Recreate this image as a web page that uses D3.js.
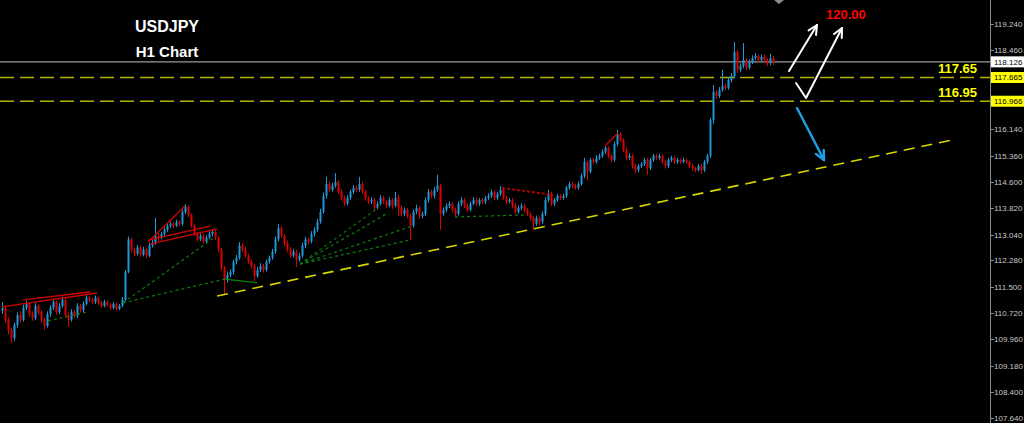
<!DOCTYPE html>
<html>
<head>
<meta charset="utf-8">
<script src="https://cdn.jsdelivr.net/npm/d3@7"></script>
<style>
  html, body { margin: 0; padding: 0; background: #000; overflow: hidden; }
  svg { display: block; }
</style>
</head>
<body>
<div class="chart"></div>
<script>

// USDJPY H1 bars (open = previous close)
var firstOpen = 110.80;
var closes = [
  110.88, 110.53, 110.23, 109.99, 110.38, 110.67, 110.53, 110.88, 111.00, 110.70,
  110.58, 110.94, 110.76, 110.53, 110.35, 110.70, 110.88, 111.06, 110.76, 110.94,
  111.12, 110.67, 110.53, 110.76, 110.64, 110.94, 110.82, 111.00, 111.18, 111.12,
  111.06, 111.18, 111.03, 110.94, 111.06, 110.97, 110.88, 111.00, 110.85, 110.94,
  111.12, 111.94, 112.90, 112.60, 112.48, 112.66, 112.45, 112.60, 112.42, 112.72,
  112.78, 113.00, 112.95, 113.06, 113.18, 113.30, 113.36, 113.30, 113.42, 113.36,
  113.71, 113.86, 113.62, 113.30, 113.06, 112.90, 113.00, 112.84, 112.95, 113.06,
  113.12, 112.95, 112.60, 112.06, 111.71, 111.85, 111.94, 112.24, 112.36, 112.72,
  112.60, 112.42, 112.24, 112.12, 111.82, 112.00, 112.12, 112.00, 112.24, 112.36,
  112.54, 112.90, 113.24, 113.00, 112.78, 112.60, 112.42, 112.54, 112.30, 112.42,
  112.72, 112.90, 112.84, 113.06, 113.18, 113.42, 113.71, 114.18, 114.53, 114.36,
  114.48, 114.59, 114.30, 114.12, 113.95, 114.12, 114.30, 114.42, 114.36, 114.53,
  114.30, 114.12, 114.01, 114.06, 113.83, 113.95, 114.12, 114.01, 113.89, 114.06,
  113.89, 114.12, 113.83, 113.65, 113.77, 113.59, 113.30, 113.71, 113.83, 113.59,
  113.65, 114.06, 114.30, 114.18, 114.36, 114.48, 113.65, 113.77, 113.89, 113.95,
  113.77, 113.65, 113.95, 114.06, 113.89, 113.77, 113.95, 114.06, 113.95, 114.06,
  114.01, 114.12, 114.18, 114.30, 114.12, 114.24, 114.36, 114.12, 114.01, 114.06,
  113.89, 113.71, 113.83, 113.89, 113.77, 113.65, 113.53, 113.36, 113.53, 113.42,
  113.65, 114.06, 114.24, 113.95, 114.06, 114.18, 114.12, 114.18, 114.42, 114.53,
  114.48, 114.42, 114.53, 114.77, 115.18, 114.89, 115.24, 115.18, 115.30, 115.36,
  115.48, 115.60, 115.36, 115.24, 115.71, 116.00, 115.83, 115.53, 115.30, 115.36,
  115.06, 114.94, 115.06, 115.12, 115.24, 115.00, 115.24, 115.36, 115.30, 115.36,
  115.18, 115.06, 115.24, 115.30, 115.18, 115.24, 115.18, 115.24, 115.18, 115.06,
  115.00, 114.94, 115.06, 114.94, 115.18, 115.36, 116.41, 117.24, 117.12, 117.30,
  117.42, 117.36, 117.59, 117.71, 118.42, 117.89, 118.01, 118.18, 117.95, 118.12,
  118.24, 118.30, 118.18, 118.27, 118.18, 118.09, 118.24, 118.126
];
var highs = [
  111.05, 110.95, 110.60, 110.30, 110.45, 110.75, 110.78, 110.98, 111.10, 111.05,
  110.78, 111.02, 111.00, 110.82, 110.60, 110.78, 110.96, 111.15, 111.10, 111.02,
  111.22, 111.18, 110.75, 110.84, 110.82, 111.02, 111.00, 111.08, 111.26, 111.24,
  111.18, 111.25, 111.22, 111.08, 111.12, 111.10, 111.02, 111.06, 111.04, 111.00,
  111.20, 112.00, 112.98, 112.95, 112.66, 112.74, 112.72, 112.68, 112.66, 112.80,
  112.88, 113.53, 113.08, 113.12, 113.25, 113.38, 113.42, 113.40, 113.48, 113.46,
  113.78, 113.94, 113.90, 113.66, 113.36, 113.12, 113.08, 113.06, 113.02, 113.14,
  113.20, 113.18, 113.00, 112.66, 112.12, 111.95, 112.02, 112.30, 112.44, 112.82,
  112.80, 112.68, 112.48, 112.30, 112.18, 112.08, 112.20, 112.18, 112.30, 112.42,
  112.62, 112.98, 113.35, 113.30, 113.06, 112.86, 112.68, 112.62, 112.60, 112.50,
  112.80, 112.98, 112.96, 113.14, 113.26, 113.50, 113.80, 114.28, 114.74, 114.60,
  114.56, 114.85, 114.64, 114.38, 114.18, 114.20, 114.36, 114.50, 114.48, 114.74,
  114.60, 114.36, 114.18, 114.14, 114.12, 114.02, 114.20, 114.18, 114.06, 114.14,
  114.12, 114.30, 114.20, 113.90, 113.84, 113.82, 113.66, 113.78, 113.92, 113.88,
  113.72, 114.14, 114.38, 114.36, 114.44, 114.80, 114.54, 113.84, 113.96, 114.02,
  114.00, 113.84, 114.02, 114.14, 114.12, 113.96, 114.02, 114.14, 114.12, 114.12,
  114.12, 114.18, 114.26, 114.36, 114.34, 114.30, 114.47, 114.42, 114.18, 114.12,
  114.12, 113.96, 113.90, 113.96, 113.94, 113.82, 113.70, 113.58, 113.60, 113.58,
  113.72, 114.14, 114.36, 114.30, 114.12, 114.24, 114.24, 114.24, 114.48, 114.60,
  114.60, 114.54, 114.60, 114.84, 115.30, 115.22, 115.30, 115.30, 115.38, 115.42,
  115.54, 115.66, 115.64, 115.42, 115.78, 116.12, 116.04, 115.88, 115.60, 115.44,
  115.42, 115.12, 115.12, 115.18, 115.30, 115.30, 115.30, 115.42, 115.42, 115.42,
  115.40, 115.24, 115.30, 115.36, 115.34, 115.30, 115.28, 115.30, 115.28, 115.22,
  115.12, 115.04, 115.12, 115.12, 115.24, 115.42, 116.48, 117.44, 117.30, 117.38,
  117.89, 117.48, 117.66, 117.80, 118.71, 118.48, 118.08, 118.68, 118.24, 118.20,
  118.32, 118.38, 118.34, 118.34, 118.34, 118.24, 118.36, 118.30
];
var lows = [
  110.70, 110.45, 110.10, 109.85, 109.92, 110.30, 110.45, 110.48, 110.82, 110.62,
  110.50, 110.52, 110.68, 110.46, 110.23, 110.30, 110.62, 110.82, 110.68, 110.70,
  110.88, 110.60, 110.32, 110.48, 110.58, 110.58, 110.74, 110.76, 110.95, 111.05,
  111.00, 111.00, 110.98, 110.88, 110.90, 110.92, 110.82, 110.84, 110.80, 110.82,
  110.90, 111.08, 111.90, 112.52, 112.40, 112.42, 112.38, 112.40, 112.35, 112.38,
  112.66, 112.74, 112.86, 112.90, 113.00, 113.12, 113.24, 113.24, 113.26, 113.30,
  113.30, 113.64, 113.55, 113.24, 113.00, 112.84, 112.85, 112.78, 112.78, 112.90,
  112.98, 112.88, 112.52, 111.98, 111.29, 111.62, 111.78, 111.86, 112.16, 112.30,
  112.52, 112.36, 112.18, 112.04, 111.67, 111.76, 111.94, 111.92, 111.95, 112.18,
  112.30, 112.48, 112.84, 112.94, 112.70, 112.52, 112.36, 112.36, 112.09, 112.24,
  112.36, 112.64, 112.76, 112.78, 112.98, 113.12, 113.36, 113.66, 114.10, 114.28,
  114.30, 114.42, 114.24, 114.04, 113.88, 113.90, 114.06, 114.24, 114.30, 114.30,
  114.24, 114.04, 113.94, 113.94, 113.76, 113.78, 113.90, 113.94, 113.82, 113.84,
  113.80, 113.84, 113.58, 113.58, 113.58, 113.52, 112.88, 113.24, 113.64, 113.50,
  113.52, 113.58, 113.98, 114.10, 114.10, 114.30, 113.18, 113.58, 113.70, 113.82,
  113.70, 113.58, 113.60, 113.88, 113.82, 113.70, 113.72, 113.90, 113.88, 113.88,
  113.94, 113.94, 114.06, 114.12, 114.06, 114.06, 114.18, 114.06, 113.94, 113.96,
  113.82, 113.64, 113.66, 113.76, 113.70, 113.58, 113.46, 113.18, 113.30, 113.32,
  113.36, 113.58, 114.00, 113.88, 113.88, 114.00, 114.06, 114.06, 114.12, 114.36,
  114.40, 114.36, 114.36, 114.48, 114.70, 114.65, 114.84, 115.10, 115.12, 115.24,
  115.30, 115.42, 115.28, 115.16, 115.18, 115.64, 115.76, 115.46, 115.22, 115.24,
  114.98, 114.85, 114.88, 115.00, 115.06, 114.80, 114.94, 115.18, 115.24, 115.24,
  115.12, 114.98, 115.00, 115.18, 115.12, 115.12, 115.12, 115.14, 115.12, 115.00,
  114.92, 114.88, 114.90, 114.82, 114.88, 115.12, 115.30, 116.30, 117.02, 117.06,
  117.24, 117.28, 117.30, 117.52, 117.64, 117.80, 117.82, 117.94, 117.88, 117.90,
  118.06, 118.18, 118.10, 118.12, 118.10, 118.00, 118.02, 118.04
];

// right price scale labels
var tickLabels = [119.240, 118.460, 116.140, 115.360, 114.600, 113.820, 113.040,
  112.280, 111.500, 110.720, 109.960, 109.180, 108.400, 107.640];

var bidPrice = 118.126;
var levels = [117.665, 116.966];
var levelTexts = ["117.65", "116.95"];
var targetText = "120.00";

// drawn objects, [bar, price] anchors
var trendLine = [[71.7, 111.23], [317, 115.83]];
var redLines = [
  [[0, 110.91], [31.7, 111.32]],
  [[7, 111.12], [29.3, 111.35]],
  [[48.7, 112.82], [61, 113.88]],
  [[48.7, 112.88], [69.3, 113.29]],
  [[49.3, 112.76], [71.7, 113.21]],
  [[201, 115.65], [205.3, 116.03]]
];
var redDashed = [[[166.7, 114.41], [183.7, 114.21]]];
var greenDashed = [
  [[15.3, 110.50], [28.3, 110.76]],
  [[40.3, 111.03], [71, 112.97]],
  [[40.3, 111.03], [74.3, 111.73]],
  [[99.3, 112.17], [125.3, 113.82]],
  [[99.3, 112.17], [128.7, 113.68]],
  [[99.3, 112.17], [136, 112.88]],
  [[99.3, 112.17], [136.7, 113.29]],
  [[151, 113.56], [175, 113.62]]
];
var greenSolid = [[[74.3, 111.73], [85, 111.62]]];

var candles = closes.map(function(c, i) {
  var o = i === 0 ? firstOpen : closes[i - 1];
  return {i: i, open: o, close: c,
    high: Math.max(highs[i], o, c), low: Math.min(lows[i], o, c)};
});

var svgWidth = 1024, svgHeight = 423;
var axisX = 990;
var font = "Liberation Sans, Arial, sans-serif";

var svg = d3.select(".chart")
  .append("svg")
    .attr("width", svgWidth)
    .attr("height", svgHeight)
    .style("background", "#000");

var x = d3.scaleLinear().domain([0, 317]).range([2, 953]);
var y = d3.scaleLinear().domain([107.64, 119.24]).range([418, 24]);

var bull = "#1e98d6", bear = "#dd0000";

// price axis
svg.append("line")
  .attr("x1", axisX + 0.5).attr("x2", axisX + 0.5)
  .attr("y1", 0).attr("y2", svgHeight)
  .attr("stroke", "#8a8a8a");

var ticks = svg.append("g");
ticks.selectAll("line")
  .data(tickLabels)
  .enter()
  .append("line")
    .attr("x1", axisX).attr("x2", axisX + 4)
    .attr("y1", function(d) { return Math.round(y(d)) + 0.5; })
    .attr("y2", function(d) { return Math.round(y(d)) + 0.5; })
    .attr("stroke", "#8a8a8a");
ticks.selectAll("text")
  .data(tickLabels)
  .enter()
  .append("text")
    .attr("x", axisX + 4)
    .attr("y", function(d) { return Math.min(y(d) + 3, 421); })
    .attr("fill", "#c8c8c8")
    .attr("font-family", font)
    .attr("font-size", 8)
    .text(function(d) { return d.toFixed(3); });

// bid line + level lines
svg.append("line")
  .attr("x1", 0).attr("x2", axisX)
  .attr("y1", y(bidPrice)).attr("y2", y(bidPrice))
  .attr("stroke", "#9a9a9a").attr("stroke-width", 1.2);

svg.selectAll(".level")
  .data(levels)
  .enter()
  .append("line")
    .classed("level", true)
    .attr("x1", 0).attr("x2", axisX)
    .attr("y1", function(d) { return y(d); })
    .attr("y2", function(d) { return y(d); })
    .attr("stroke", "#b4b400")
    .attr("stroke-width", 1.5)
    .attr("stroke-dasharray", "14,6");

svg.selectAll(".levelText")
  .data(levels)
  .enter()
  .append("text")
    .attr("x", 938)
    .attr("y", function(d) { return y(d) - 4; })
    .attr("fill", "#ffff00")
    .attr("font-family", font)
    .attr("font-weight", "bold")
    .attr("font-size", 13)
    .text(function(d, i) { return levelTexts[i]; });

// highlighted price labels
var boxes = [{v: bidPrice, bg: "#ffffff"}, {v: levels[0], bg: "#ffff00"}, {v: levels[1], bg: "#ffff00"}];
var boxG = svg.selectAll(".pbox")
  .data(boxes)
  .enter()
  .append("g")
    .classed("pbox", true);
boxG.append("rect")
  .attr("x", axisX + 1).attr("width", svgWidth - axisX - 1)
  .attr("y", function(d) { return y(d.v) - 5.5; })
  .attr("height", 11)
  .attr("fill", function(d) { return d.bg; });
boxG.append("text")
  .attr("x", axisX + 4)
  .attr("y", function(d) { return y(d.v) + 3; })
  .attr("fill", "#000")
  .attr("font-family", font)
  .attr("font-size", 8)
  .text(function(d) { return d.v.toFixed(3); });

// candles
var bars = svg.append("g").selectAll(".bar")
  .data(candles)
  .enter()
  .append("g")
    .classed("bar", true);
bars.append("line")
  .attr("x1", function(d) { return Math.round(x(d.i)) + 0.5; })
  .attr("x2", function(d) { return Math.round(x(d.i)) + 0.5; })
  .attr("y1", function(d) { return y(d.high); })
  .attr("y2", function(d) { return y(d.low); })
  .attr("stroke", function(d) { return d.close >= d.open ? bull : bear; });
bars.append("rect")
  .attr("x", function(d) { return Math.round(x(d.i)) - 0.5; })
  .attr("width", 2)
  .attr("y", function(d) { return y(Math.max(d.open, d.close)); })
  .attr("height", function(d) { return Math.max(1, Math.abs(y(d.open) - y(d.close))); })
  .attr("fill", function(d) { return d.close >= d.open ? bull : bear; });

// drawn objects
var line = d3.line()
  .x(function(p) { return x(p[0]); })
  .y(function(p) { return y(p[1]); });

function drawSet(set, color, width, dash) {
  svg.append("g").selectAll("path")
    .data(set)
    .enter()
    .append("path")
      .attr("d", line)
      .attr("fill", "none")
      .attr("stroke", color)
      .attr("stroke-width", width)
      .attr("stroke-dasharray", dash);
}
drawSet(greenDashed, "#0b800b", 1.2, "3,3");
drawSet(greenSolid, "#0b800b", 1.2, null);
drawSet(redLines, "#d00000", 1.3, null);
drawSet(redDashed, "#c00000", 1.8, "3,2");
drawSet([trendLine], "#d6d600", 1.6, "11,7");

// hand drawn arrows
function arrow(pts, color, w) {
  svg.append("path")
    .attr("d", d3.line()(pts))
    .attr("fill", "none")
    .attr("stroke", color)
    .attr("stroke-width", w)
    .attr("stroke-linecap", "round")
    .attr("stroke-linejoin", "round");
  var a = pts[pts.length - 2], b = pts[pts.length - 1];
  var ang = Math.atan2(b[1] - a[1], b[0] - a[0]);
  var len = 10, spread = 0.45;
  var h1 = [b[0] - len * Math.cos(ang - spread), b[1] - len * Math.sin(ang - spread)];
  var h2 = [b[0] - len * Math.cos(ang + spread), b[1] - len * Math.sin(ang + spread)];
  svg.append("path")
    .attr("d", d3.line()([h1, b, h2]))
    .attr("fill", "none")
    .attr("stroke", color)
    .attr("stroke-width", w)
    .attr("stroke-linecap", "round")
    .attr("stroke-linejoin", "round");
}
arrow([[789, 71], [817, 25]], "#ffffff", 2);
arrow([[796, 83], [806, 98], [842, 28]], "#ffffff", 2);
arrow([[797, 108], [824, 160]], "#1e9ee0", 2.5);

// top marker
svg.append("path")
  .attr("d", "M774,0 L784,0 L779,4 Z")
  .attr("fill", "#8a8a8a");

// texts
svg.append("text")
  .attr("x", 826).attr("y", 19)
  .attr("fill", "#ff0000")
  .attr("font-family", font)
  .attr("font-weight", "bold")
  .attr("font-size", 13)
  .text(targetText);

svg.append("text")
  .attr("x", 167).attr("y", 32)
  .attr("text-anchor", "middle")
  .attr("fill", "#ffffff")
  .attr("font-family", font)
  .attr("font-weight", "bold")
  .attr("font-size", 16)
  .text("USDJPY");

svg.append("text")
  .attr("x", 167).attr("y", 57)
  .attr("text-anchor", "middle")
  .attr("fill", "#ffffff")
  .attr("font-family", font)
  .attr("font-weight", "bold")
  .attr("font-size", 15)
  .text("H1 Chart");

</script>
</body>
</html>
